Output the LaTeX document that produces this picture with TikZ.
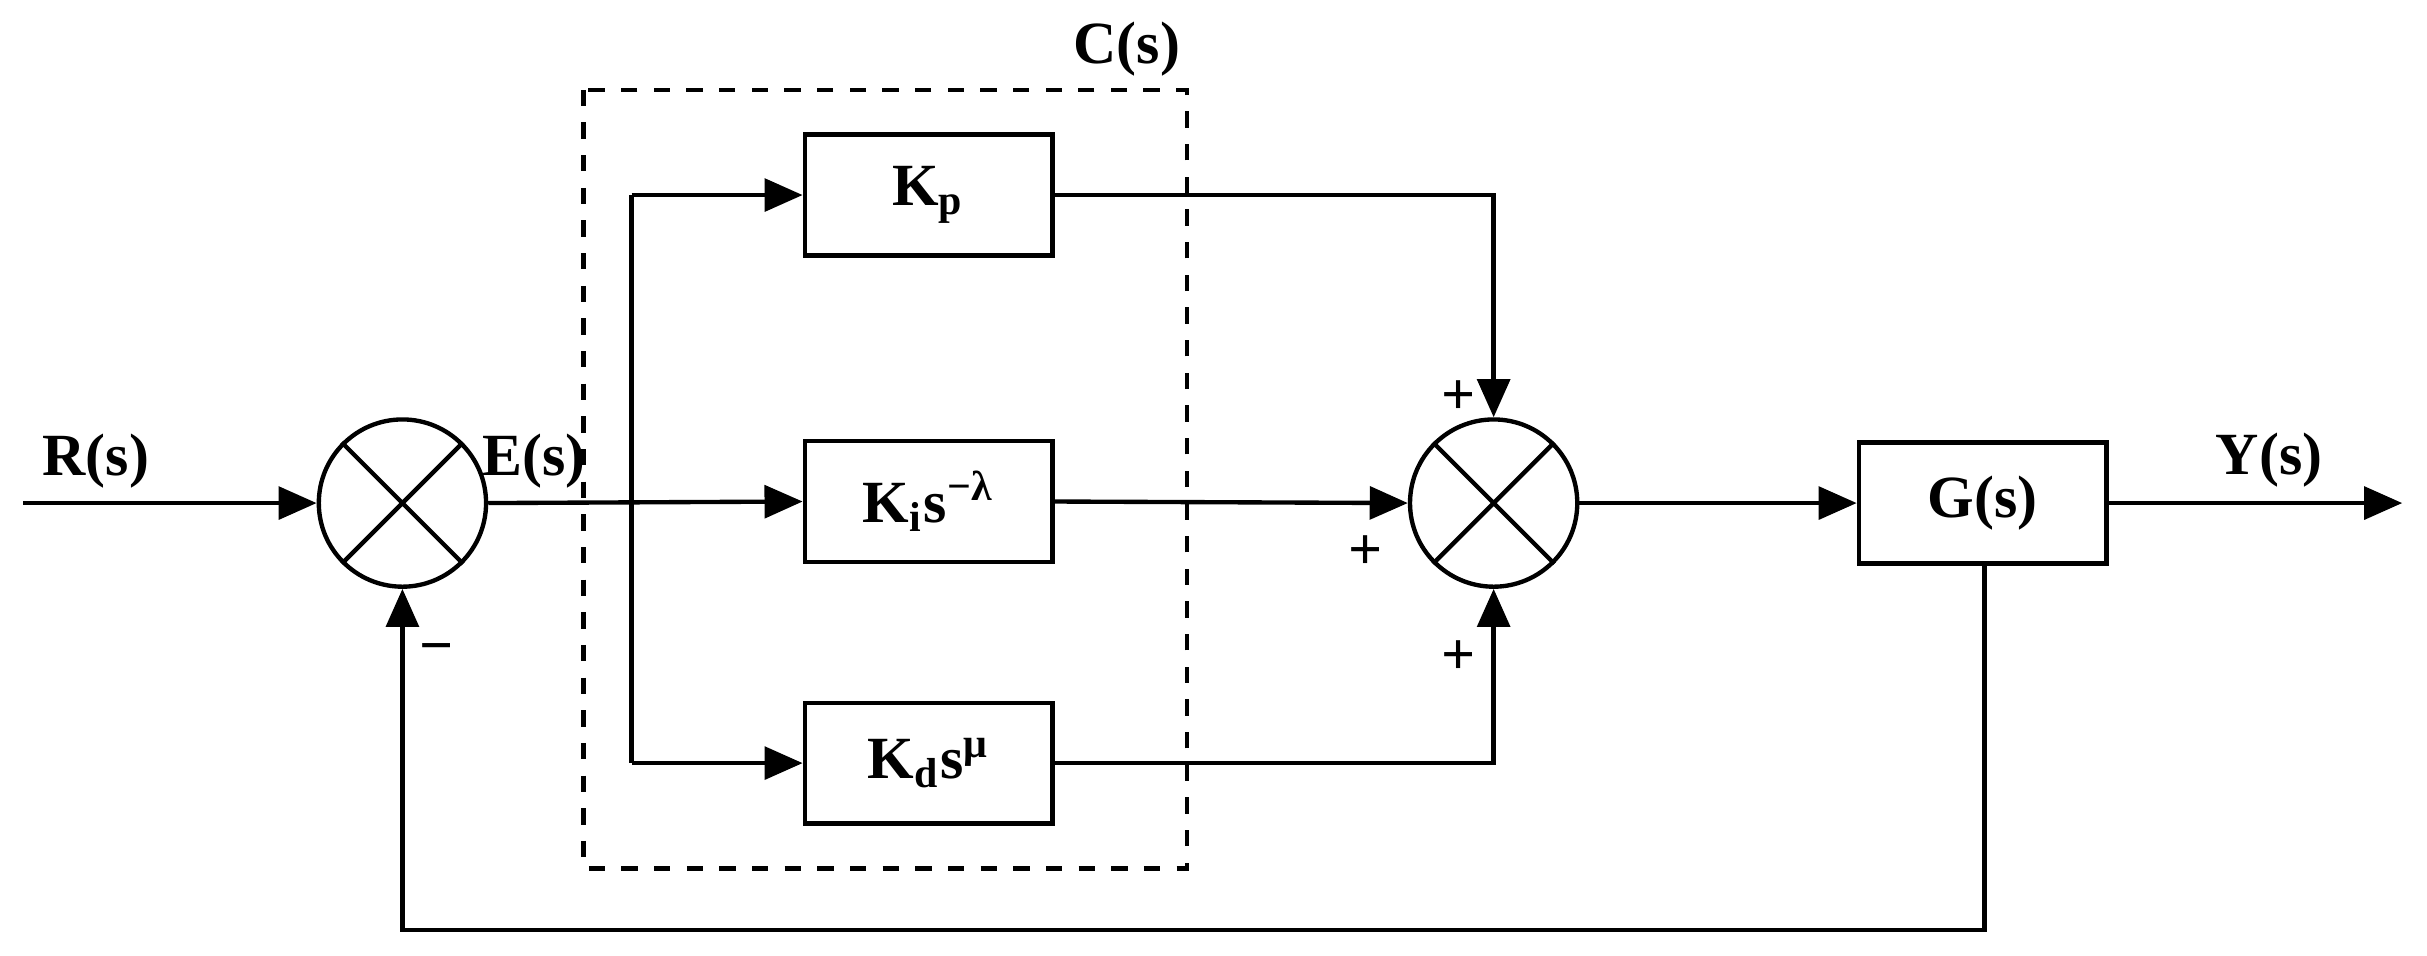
\documentclass[tikz,border=0pt]{standalone}
\usepackage{fontspec}
\setmainfont{Liberation Serif}
\usetikzlibrary{arrows.meta}
\begin{document}
\begin{tikzpicture}[x=0.01cm,y=-0.01cm,
    every node/.style={font=\fontsize{11}{13}\selectfont\bfseries},
    blk/.style={draw,thick,minimum width=1.6cm,minimum height=0.78cm,inner sep=0},
    sum/.style={draw,circle,thick,minimum size=1.08cm,inner sep=0},
    arr/.style={thick,-{Triangle[length=7pt,width=6pt]}},
    ln/.style={thick}]
  \useasboundingbox (0,0) rectangle (1568,617);

  % dashed controller frame
  \draw[thick,dashed] (377,58) rectangle (767,561);
  \node (lc) at (728,32) {C(s)};

  % blocks
  \node[blk] (kp) at (600,126) {K\textsubscript{p}};
  \node[blk] (ki) at (600,324) {K\textsubscript{i}s\textsuperscript{−λ}};
  \node[blk] (kd) at (600,493) {K\textsubscript{d}s\textsuperscript{μ}};
  \node[blk] (g) at (1281,325) {G(s)};

  % summing junctions
  \node[sum] (s1) at (260,325) {};
  \draw[thick] (s1.45) -- (s1.225) (s1.135) -- (s1.315);
  \node[sum] (s2) at (965,325) {};
  \draw[thick] (s2.45) -- (s2.225) (s2.135) -- (s2.315);

  % coordinates
  \coordinate (in) at (15,325);
  \coordinate (out) at (1552,325);
  \coordinate (b1) at (408,126);
  \coordinate (b2) at (408,493);
  \coordinate (fb) at (1282,601);

  % signal paths
  \draw[arr] (in) -- (s1.west);
  \draw[arr] (s1.east) -- (ki.west);
  \draw[ln] (b1) -- (b2);
  \draw[arr] (b1) -- (kp.west);
  \draw[arr] (b2) -- (kd.west);
  \draw[arr] (kp.east) -| (s2.north);
  \draw[arr] (ki.east) -- (s2.west);
  \draw[arr] (kd.east) -| (s2.south);
  \draw[arr] (s2.east) -- (g.west);
  \draw[arr] (g.east) -- (out);
  \draw[arr] (g.south -| fb) -- (fb) -| (s1.south);

  % labels
  \node (lr) at (62,298) {R(s)};
  \node (le) at (345,298) {E(s)};
  \node (ly) at (1466,297) {Y(s)};
  \node (m1) at (282,423) {−};
  \node (p1) at (942,257) {+};
  \node (p2) at (882,357) {+};
  \node (p3) at (942,425) {+};
\end{tikzpicture}
\end{document}
